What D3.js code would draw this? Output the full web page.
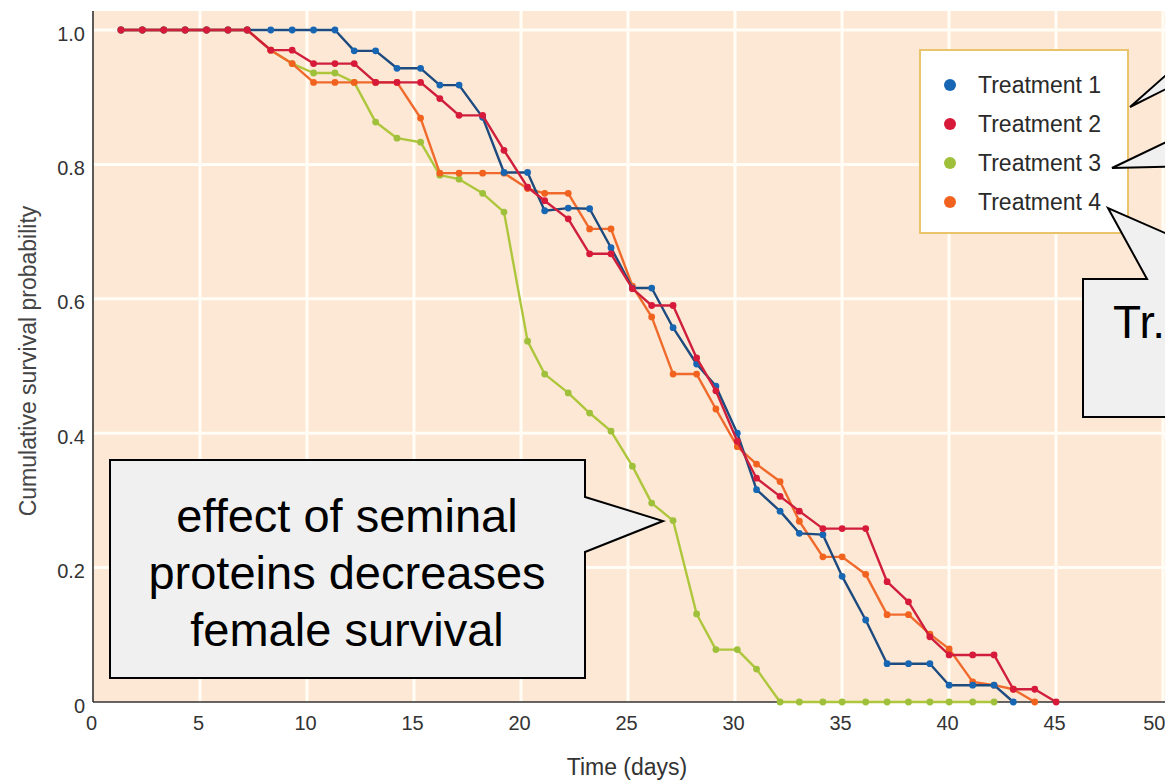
<!DOCTYPE html>
<html>
<head>
<meta charset="utf-8">
<script src="https://cdn.jsdelivr.net/npm/d3@7"></script>
<style>
  body { margin: 0; background: #fff; }
  svg { display: block; font-family: 'Liberation Sans', Arial, sans-serif; }
</style>
</head>
<body>
<svg id="chart" width="1165" height="783"></svg>
<script>
// sample days shared by all four curves
const days = [1.4, 2.4, 3.4, 4.4, 5.4, 6.4, 7.3, 8.4, 9.4, 10.4, 11.4, 12.3, 13.3, 14.3, 15.4,
  16.3, 17.2, 18.3, 19.3, 20.4, 21.2, 22.3, 23.3, 24.3, 25.3, 26.2, 27.2, 28.3, 29.2, 30.2,
  31.1, 32.2, 33.1, 34.2, 35.1, 36.2, 37.2, 38.2, 39.2, 40.1, 41.2, 42.2, 43.1, 44.1, 45.1];

const treatment1 = [1, 1, 1, 1, 1, 1, 1, 1, 1, 1, 1,
  0.969, 0.969, 0.943, 0.943, 0.918, 0.918, 0.87, 0.788, 0.788, 0.731,
  0.735, 0.734, 0.676, 0.616, 0.616, 0.557, 0.503, 0.47, 0.40, 0.316,
  0.284, 0.251, 0.249, 0.187, 0.122, 0.057, 0.057, 0.057, 0.025, 0.025,
  0.025, 0];
const treatment2 = [1, 1, 1, 1, 1, 1, 1,
  0.97, 0.97, 0.95, 0.95, 0.95, 0.922, 0.922, 0.922, 0.898, 0.873, 0.873, 0.821,
  0.766, 0.746, 0.719, 0.667, 0.667, 0.615, 0.59, 0.59, 0.512, 0.463,
  0.388, 0.333, 0.306, 0.284, 0.258, 0.258, 0.258, 0.179, 0.149, 0.097,
  0.07, 0.07, 0.07, 0.019, 0.019, 0];
const treatment3 = [1, 1, 1, 1, 1, 1, 1,
  0.97, 0.95, 0.936, 0.936, 0.922, 0.863, 0.839, 0.833, 0.784, 0.778, 0.757, 0.729,
  0.537, 0.488, 0.46, 0.43, 0.403, 0.351, 0.296, 0.27, 0.131, 0.078,
  0.078, 0.049,
  0, 0, 0, 0, 0, 0, 0, 0, 0, 0, 0];
const treatment4 = [1, 1, 1, 1, 1, 1, 1,
  0.97, 0.95, 0.922, 0.922, 0.922, 0.922, 0.922, 0.869, 0.787, 0.787, 0.787, 0.787,
  0.764, 0.757, 0.757, 0.704, 0.704, 0.619, 0.573, 0.488, 0.488, 0.436,
  0.38, 0.354, 0.328, 0.269, 0.216, 0.216, 0.19, 0.13, 0.13, 0.101,
  0.079, 0.03, 0.025, 0.019, 0];

const seriesNames = ['Treatment 1', 'Treatment 2', 'Treatment 3', 'Treatment 4'];
const seriesValues = [treatment1, treatment2, treatment3, treatment4];
const lineColors = ['#1d4a7f', '#cf1f3c', '#aec63c', '#ef6a2c'];
const dotColors = ['#1666b4', '#d81a3a', '#9fc03a', '#f2621f'];
const drawOrder = [2, 3, 0, 1];

const xTicks = [0, 5, 10, 15, 20, 25, 30, 35, 40, 45, 50];
const yTicks = [0, 0.2, 0.4, 0.6, 0.8, 1.0];
const yTickLabels = ['0', '0.2', '0.4', '0.6', '0.8', '1.0'];

const calloutMain = ['effect of seminal', 'proteins decreases', 'female survival'];
const calloutSide = 'Tr.';

const $svg = d3.select('#chart');
const x = d3.scaleLinear().domain([0, 50]).range([91, 1161]);
const y = d3.scaleLinear().domain([0, 1]).range([702, 30]);
const plotLeft = 93, plotTop = 11, plotBottom = 702, plotRight = 1165;

// plot background
$svg.append('rect')
  .attr('x', plotLeft).attr('y', plotTop)
  .attr('width', plotRight - plotLeft).attr('height', plotBottom - plotTop)
  .attr('fill', '#fce8d4');

// white grid
const $grid = $svg.append('g');
$grid.selectAll('.vgrid')
  .data(xTicks.filter((d) => d > 0))
  .enter().append('line')
  .attr('x1', (d) => x(d) + 2).attr('x2', (d) => x(d) + 2)
  .attr('y1', plotTop).attr('y2', plotBottom)
  .attr('stroke', '#fffdf6').attr('stroke-width', 3);
$grid.selectAll('.hgrid')
  .data(yTicks.filter((d) => d > 0))
  .enter().append('line')
  .attr('x1', plotLeft).attr('x2', plotRight)
  .attr('y1', (d) => y(d)).attr('y2', (d) => y(d))
  .attr('stroke', '#fffdf6').attr('stroke-width', 3);

// axes
const xAxis = d3.axisBottom(x).tickValues(xTicks).tickSize(0).tickPadding(22)
  .tickFormat(d3.format('d'));
const yAxis = d3.axisLeft(y).tickValues(yTicks).tickSize(0).tickPadding(8)
  .tickFormat((d, i) => yTickLabels[i]);

const $xAxis = $svg.append('g').attr('transform', `translate(0,${plotBottom})`).call(xAxis);
const $yAxis = $svg.append('g').attr('transform', `translate(${plotLeft},0)`).call(yAxis);
[$xAxis, $yAxis].forEach(($a) => {
  $a.select('.domain').remove();
  $a.selectAll('text')
    .attr('fill', '#333')
    .attr('font-size', 20)
    .attr('font-family', "'Liberation Sans Narrow', 'Liberation Sans', Arial, sans-serif");
});
$yAxis.selectAll('text').attr('dy', '0.5em');
$xAxis.selectAll('text').attr('dy', '0.3em');
// last label sits at the window edge
$xAxis.selectAll('.tick').filter((d) => d === 50).select('text')
  .attr('text-anchor', 'end').attr('x', 4);

$svg.append('line')
  .attr('x1', plotLeft).attr('x2', plotLeft).attr('y1', plotTop).attr('y2', plotBottom)
  .attr('stroke', '#333').attr('stroke-width', 1.6);
$svg.append('line')
  .attr('x1', plotLeft).attr('x2', plotRight).attr('y1', plotBottom).attr('y2', plotBottom)
  .attr('stroke', '#333').attr('stroke-width', 1.6);

$svg.append('text')
  .attr('x', 627).attr('y', 775)
  .attr('text-anchor', 'middle').attr('font-size', 23).attr('fill', '#333')
  .text('Time (days)');
$svg.append('text')
  .attr('transform', 'translate(36,361) rotate(-90)')
  .attr('text-anchor', 'middle').attr('font-size', 23).attr('fill', '#444')
  .text('Cumulative survival probability');

// survival curves
const line = d3.line().x((d) => x(d.day)).y((d) => y(d.value));
const $curves = $svg.append('g');
drawOrder.forEach((s) => {
  const pts = seriesValues[s].map((v, i) => ({ day: days[i], value: v }));
  const $g = $curves.append('g');
  $g.append('path')
    .datum(pts)
    .attr('d', line)
    .attr('fill', 'none')
    .attr('stroke', lineColors[s])
    .attr('stroke-width', 2.4)
    .attr('stroke-linejoin', 'round');
  $g.selectAll('circle')
    .data(pts)
    .enter().append('circle')
    .attr('cx', (d) => x(d.day))
    .attr('cy', (d) => y(d.value))
    .attr('r', 3.4)
    .attr('fill', dotColors[s]);
});

// legend
const $legend = $svg.append('g');
$legend.append('rect')
  .attr('x', 920).attr('y', 50).attr('width', 208).attr('height', 183)
  .attr('fill', '#fff').attr('stroke', '#e9c46a').attr('stroke-width', 2);
seriesNames.forEach((name, i) => {
  $legend.append('circle')
    .attr('cx', 950).attr('cy', 85 + i * 39).attr('r', 6)
    .attr('fill', dotColors[i]);
  $legend.append('text')
    .attr('x', 978).attr('y', 85 + i * 39).attr('dy', '0.36em')
    .attr('font-size', 23).attr('fill', '#2a2a2a')
    .text(name);
});

// callouts
const calloutStyle = ($p) => $p.attr('fill', '#f0f0f0').attr('stroke', '#000').attr('stroke-width', 2);

calloutStyle($svg.append('path')
  .attr('d', 'M110,460 H585 V497 L663,521 L585,552 V678 H110 Z'));
const $main = $svg.append('text')
  .attr('text-anchor', 'middle').attr('font-size', 47).attr('fill', '#000');
calloutMain.forEach((t, i) => {
  $main.append('tspan').attr('x', 347).attr('y', 532 + i * 57).text(t);
});

calloutStyle($svg.append('path')
  .attr('d', 'M1083,279 H1147 L1108,208 L1270,279 H1300 V417 H1083 Z'));
$svg.append('text')
  .attr('x', 1113).attr('y', 338).attr('font-size', 46).attr('fill', '#000')
  .text(calloutSide);

calloutStyle($svg.append('path').attr('d', 'M1200,45 L1130,107 L1200,72'));
calloutStyle($svg.append('path').attr('d', 'M1200,126 L1112,168 L1200,166'));
</script>
</body>
</html>
